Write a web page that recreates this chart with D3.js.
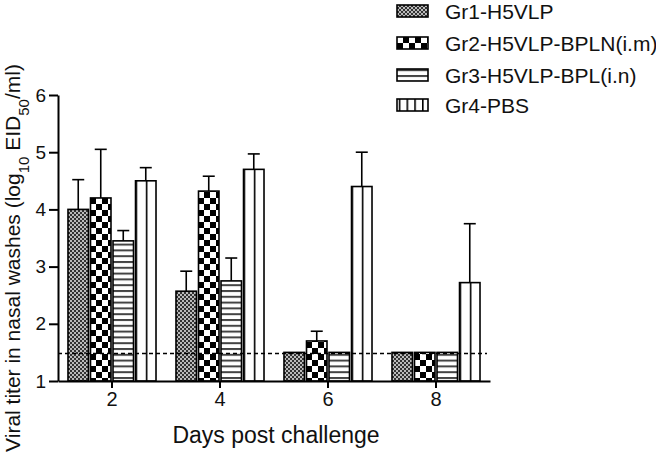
<!DOCTYPE html>
<html>
<head>
<meta charset="utf-8">
<script src="https://cdn.jsdelivr.net/npm/d3@7/dist/d3.min.js"></script>
<style>
  body { margin: 0; background: #fff; }
  svg { display: block; font-family: "Liberation Sans", Arial, Helvetica, sans-serif; }
  text { fill: #111; }
</style>
</head>
<body>
<svg id="chart" width="656" height="458"></svg>
<script>
// data
const days = ["2", "4", "6", "8"];
const groups = ["Gr1-H5VLP", "Gr2-H5VLP-BPLN(i.m)", "Gr3-H5VLP-BPL(i.n)", "Gr4-PBS"];
const gr1Mean = [4.0, 2.57, 1.5, 1.5];
const gr1Err  = [4.52, 2.92, 1.5, 1.5];
const gr2Mean = [4.2, 4.32, 1.7, 1.5];
const gr2Err  = [5.05, 4.58, 1.87, 1.5];
const gr3Mean = [3.45, 2.75, 1.5, 1.5];
const gr3Err  = [3.63, 3.15, 1.5, 1.5];
const gr4Mean = [4.5, 4.7, 4.4, 2.72];
const gr4Err  = [4.73, 4.97, 5.0, 3.75];
const yTicks = [1, 2, 3, 4, 5, 6];
const detectionLimit = 1.48;

const means = [gr1Mean, gr2Mean, gr3Mean, gr4Mean];
const errs = [gr1Err, gr2Err, gr3Err, gr4Err];

const rows = [];
days.forEach((day, i) => {
  groups.forEach((g, j) => {
    rows.push({ day, group: g, gi: j, mean: means[j][i], err: errs[j][i] });
  });
});

const margin = { left: 58, right: 166, top: 95, bottom: 77 };
const width = 656, height = 458;

const svg = d3.select("#chart");

// patterns
const defs = svg.append("defs");

// Gr1: fine dotted texture
const p1 = defs.append("pattern").attr("id", "pat0")
  .attr("patternUnits", "userSpaceOnUse").attr("width", 4).attr("height", 4);
p1.append("rect").attr("width", 4).attr("height", 4).attr("fill", "#bbb");
p1.append("rect").attr("width", 2).attr("height", 2).attr("fill", "#333");
p1.append("rect").attr("x", 2).attr("y", 2).attr("width", 2).attr("height", 2).attr("fill", "#333");

// Gr2: big checkerboard
const p2 = defs.append("pattern").attr("id", "pat1")
  .attr("patternUnits", "userSpaceOnUse").attr("width", 12).attr("height", 12);
p2.append("rect").attr("width", 12).attr("height", 12).attr("fill", "#fff");
p2.append("rect").attr("width", 6).attr("height", 6).attr("fill", "#000");
p2.append("rect").attr("x", 6).attr("y", 6).attr("width", 6).attr("height", 6).attr("fill", "#000");

// Gr3: horizontal lines
const p3 = defs.append("pattern").attr("id", "pat2")
  .attr("patternUnits", "userSpaceOnUse").attr("width", 6).attr("height", 5.8);
p3.append("rect").attr("width", 6).attr("height", 5.8).attr("fill", "#fff");
p3.append("rect").attr("y", 0).attr("width", 6).attr("height", 2).attr("fill", "#444");

// scales
const x0 = d3.scaleBand()
  .domain(days)
  .range([margin.left, width - margin.right])
  .paddingInner(0.185)
  .paddingOuter(0.0925);

const x1 = d3.scaleBand()
  .domain(groups)
  .range([0, x0.bandwidth()])
  .paddingInner(0.09);

const y = d3.scaleLinear()
  .domain([1, 6])
  .range([height - margin.bottom, margin.top]);

// bars
const bars = svg.append("g").attr("class", "bars");

bars.selectAll("rect")
  .data(rows)
  .join("rect")
  .attr("x", d => x0(d.day) + x1(d.group))
  .attr("y", d => y(d.mean))
  .attr("width", x1.bandwidth())
  .attr("height", d => y(1) - y(d.mean))
  .attr("fill", d => `url(#pat${d.gi})`)
  .attr("stroke", "#000")
  .attr("stroke-width", 1.6);

// Gr4: vertical line down the middle of each bar, pattern aligned per bar
bars.selectAll("rect")
  .filter(d => d.gi === 3)
  .each(function(d, i) {
    const bx = x0(d.day) + x1(d.group);
    const id = "pat3-" + i;
    const p = defs.append("pattern").attr("id", id)
      .attr("patternUnits", "userSpaceOnUse")
      .attr("x", bx).attr("width", x1.bandwidth() / 2).attr("height", 10);
    p.append("rect").attr("width", x1.bandwidth() / 2).attr("height", 10).attr("fill", "#fff");
    p.append("rect").attr("width", 1.6).attr("height", 10).attr("fill", "#000");
    d3.select(this).attr("fill", `url(#${id})`);
  });

// error bars (upper only)
const errG = svg.append("g").attr("class", "errors")
  .attr("stroke", "#000").attr("stroke-width", 1.6);

const withErr = rows.filter(d => d.err > d.mean);
const cx = d => x0(d.day) + x1(d.group) + x1.bandwidth() / 2;

errG.selectAll("line.stem")
  .data(withErr)
  .join("line")
  .attr("class", "stem")
  .attr("x1", cx).attr("x2", cx)
  .attr("y1", d => y(d.mean)).attr("y2", d => y(d.err));

errG.selectAll("line.cap")
  .data(withErr)
  .join("line")
  .attr("class", "cap")
  .attr("x1", d => cx(d) - 6).attr("x2", d => cx(d) + 6)
  .attr("y1", d => y(d.err)).attr("y2", d => y(d.err));

// detection limit
svg.append("line")
  .attr("x1", margin.left)
  .attr("x2", width - margin.right - 3)
  .attr("y1", y(detectionLimit))
  .attr("y2", y(detectionLimit))
  .attr("stroke", "#000")
  .attr("stroke-width", 1.4)
  .attr("stroke-dasharray", "4,3");

// axes
const xAxis = svg.append("g")
  .attr("transform", `translate(0,${y(1)})`)
  .call(d3.axisBottom(x0).tickSize(7).tickSizeOuter(0).tickPadding(4));

const yAxis = svg.append("g")
  .attr("transform", `translate(${margin.left},0)`)
  .call(d3.axisLeft(y).tickValues(yTicks).tickFormat(d3.format("d")).tickSize(9).tickSizeOuter(0).tickPadding(3));

[xAxis, yAxis].forEach(a => {
  a.select(".domain").attr("stroke", "#000").attr("stroke-width", 2);
  a.selectAll(".tick line").attr("stroke", "#000").attr("stroke-width", 2);
  a.selectAll(".tick text").attr("fill", "#111").style("font-family", "inherit");
});
xAxis.selectAll(".tick text").style("font-size", "20px");
yAxis.selectAll(".tick text").style("font-size", "19px");

// axis titles
svg.append("text")
  .attr("x", (margin.left + width - margin.right) / 2 + 2)
  .attr("y", 443)
  .attr("text-anchor", "middle")
  .style("font-size", "23px")
  .text("Days post challenge");

const yTitle = svg.append("text")
  .attr("transform", `translate(20,${258}) rotate(-90)`)
  .attr("text-anchor", "middle")
  .style("font-size", "21px");
yTitle.append("tspan").text("Viral titer in nasal washes (log");
yTitle.append("tspan").attr("baseline-shift", "sub").style("font-size", "15px").text("10");
yTitle.append("tspan").text(" EID");
yTitle.append("tspan").attr("baseline-shift", "sub").style("font-size", "15px").text("50");
yTitle.append("tspan").text("/ml)");

// legend
const legend = svg.append("g").attr("class", "legend");
const legendY = [11, 43, 75, 105];

const legendPats = ["pat0", "pat1", "pat2", "patL3"];
const pl = defs.append("pattern").attr("id", "patL3")
  .attr("patternUnits", "userSpaceOnUse").attr("x", 397).attr("width", 7.75).attr("height", 10);
pl.append("rect").attr("width", 7.75).attr("height", 10).attr("fill", "#fff");
pl.append("rect").attr("width", 1.6).attr("height", 10).attr("fill", "#000");

const items = legend.selectAll("g")
  .data(groups)
  .join("g")
  .attr("transform", (d, i) => `translate(397,${legendY[i]})`);

items.append("rect")
  .attr("x", 0).attr("y", -6)
  .attr("width", 31).attr("height", 12)
  .attr("fill", (d, i) => `url(#${legendPats[i]})`)
  .attr("stroke", "#000")
  .attr("stroke-width", 1.6);

items.append("text")
  .attr("x", 48)
  .attr("dy", "0.36em")
  .style("font-size", "21px")
  .text(d => d);
</script>
</body>
</html>
